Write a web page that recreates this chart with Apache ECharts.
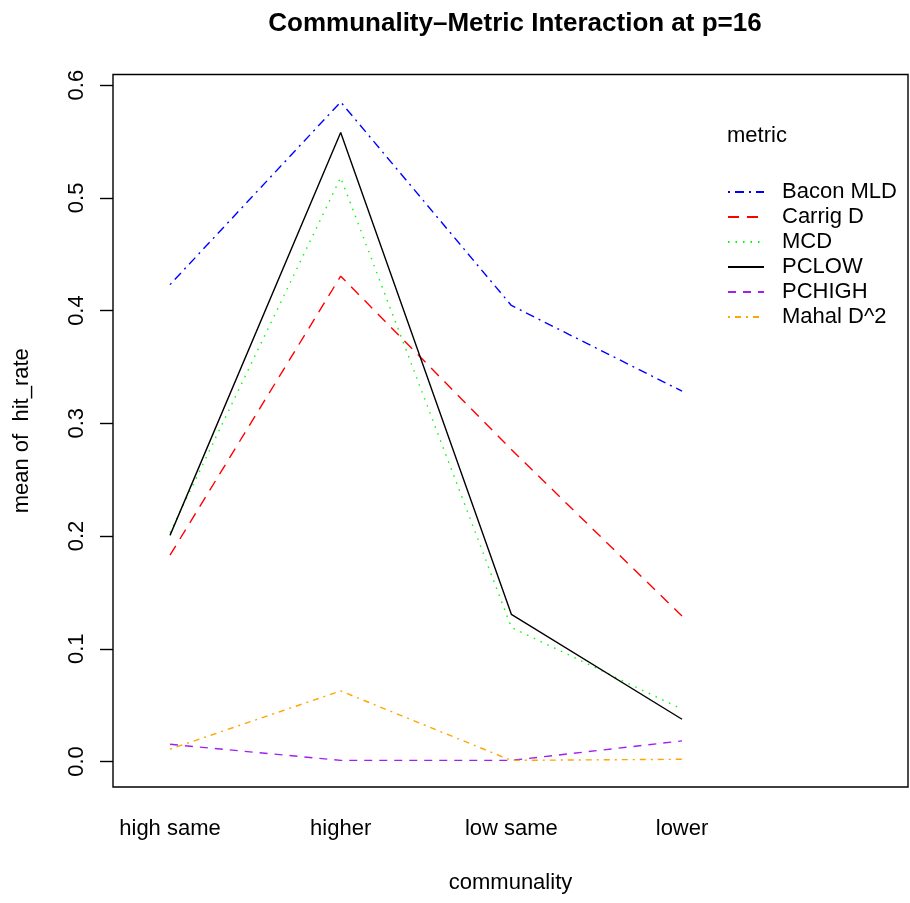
<!DOCTYPE html>
<html>
<head>
<meta charset="utf-8">
<script src="https://cdn.jsdelivr.net/npm/echarts@6/dist/echarts.min.js"></script>
<style>html,body{margin:0;padding:0;background:#fff}#c{width:910px;height:903px}</style>
</head>
<body>
<div id="c"></div>
<script>
const categories = ["high same", "higher", "low same", "lower"];
const yTicks = [0, 0.1, 0.2, 0.3, 0.4, 0.5, 0.6];
const metricNames = ["Bacon MLD", "Carrig D", "MCD", "PCLOW", "PCHIGH", "Mahal D^2"];
const baconMLD = [0.423, 0.585, 0.4045, 0.3285];
const carrigD = [0.183, 0.4305, 0.2767, 0.129];
const mcd = [0.203, 0.518, 0.119, 0.0464];
const pclow = [0.2006, 0.558, 0.1306, 0.0375];
const pchigh = [0.0153, 0.001, 0.001, 0.0183];
const mahalD2 = [0.011, 0.0626, 0.001, 0.002];

const seriesValues = [baconMLD, carrigD, mcd, pclow, pchigh, mahalD2];
const colors = ["#0000FF", "#FF0000", "#00FF00", "#000000", "#A020F0", "#FFA500"];
const dashes = [[2, 5, 9, 5], [11, 8], [1.5, 6], "solid", [8, 7], [2, 5, 6, 5]];

const FONT = '"Liberation Sans", Arial, Helvetica, sans-serif';
const chart = echarts.init(document.getElementById('c'), null, {renderer: 'canvas'});

const series = metricNames.map((name, i) => ({
  name: name,
  type: 'line',
  symbol: 'none',
  showSymbol: false,
  animation: false,
  data: seriesValues[i].map((v, j) => [j + 1, v]),
  lineStyle: {color: colors[i], width: 1.4, type: dashes[i]},
  itemStyle: {color: colors[i]}
}));

chart.setOption({
  backgroundColor: '#fff',
  animation: false,
  title: [
    {text: 'Communality\u2013Metric Interaction at p=16', left: 510, top: 6, textAlign: 'center',
     textStyle: {fontFamily: FONT, fontSize: 26, fontWeight: 'bold', color: '#000'}},
    {text: 'metric', left: 722, top: 120,
     textStyle: {fontFamily: FONT, fontSize: 22, fontWeight: 'normal', color: '#000'}}
  ],
  legend: {
    orient: 'vertical', left: 722, top: 176, itemWidth: 36, itemHeight: 14, itemGap: 3,
    data: metricNames,
    itemStyle: {opacity: 0},
    textStyle: {fontFamily: FONT, fontSize: 22, color: '#000', lineHeight: 22, padding: [0, 0, 0, 13]}
  },
  grid: {left: 113, right: 2, top: 74.5, bottom: 116, show: true, borderColor: '#000', borderWidth: 1.4, containLabel: false},
  xAxis: {
    type: 'value', min: 0.666, max: 5.324,
    name: 'communality', nameLocation: 'middle', nameGap: 85,
    nameTextStyle: {fontFamily: FONT, fontSize: 22, color: '#000'},
    axisLine: {show: false}, axisTick: {show: false}, splitLine: {show: false},
    axisLabel: {customValues: [1, 2, 3, 4], formatter: v => categories[Math.round(v) - 1],
      margin: 31, fontFamily: FONT, fontSize: 22, color: '#000'}
  },
  yAxis: {
    type: 'value', min: -0.0226, max: 0.6094,
    name: 'mean of  hit_rate', nameLocation: 'middle', nameGap: 80, nameRotate: 90,
    nameTextStyle: {fontFamily: FONT, fontSize: 22, color: '#000'},
    axisLine: {show: false}, splitLine: {show: false},
    axisTick: {show: true, customValues: yTicks, length: 13, lineStyle: {color: '#000', width: 1.4}},
    axisLabel: {customValues: yTicks, formatter: v => v.toFixed(1), rotate: 90, margin: 25,
      fontFamily: FONT, fontSize: 22, color: '#000'}
  },
  series: series
});
</script>
</body>
</html>
